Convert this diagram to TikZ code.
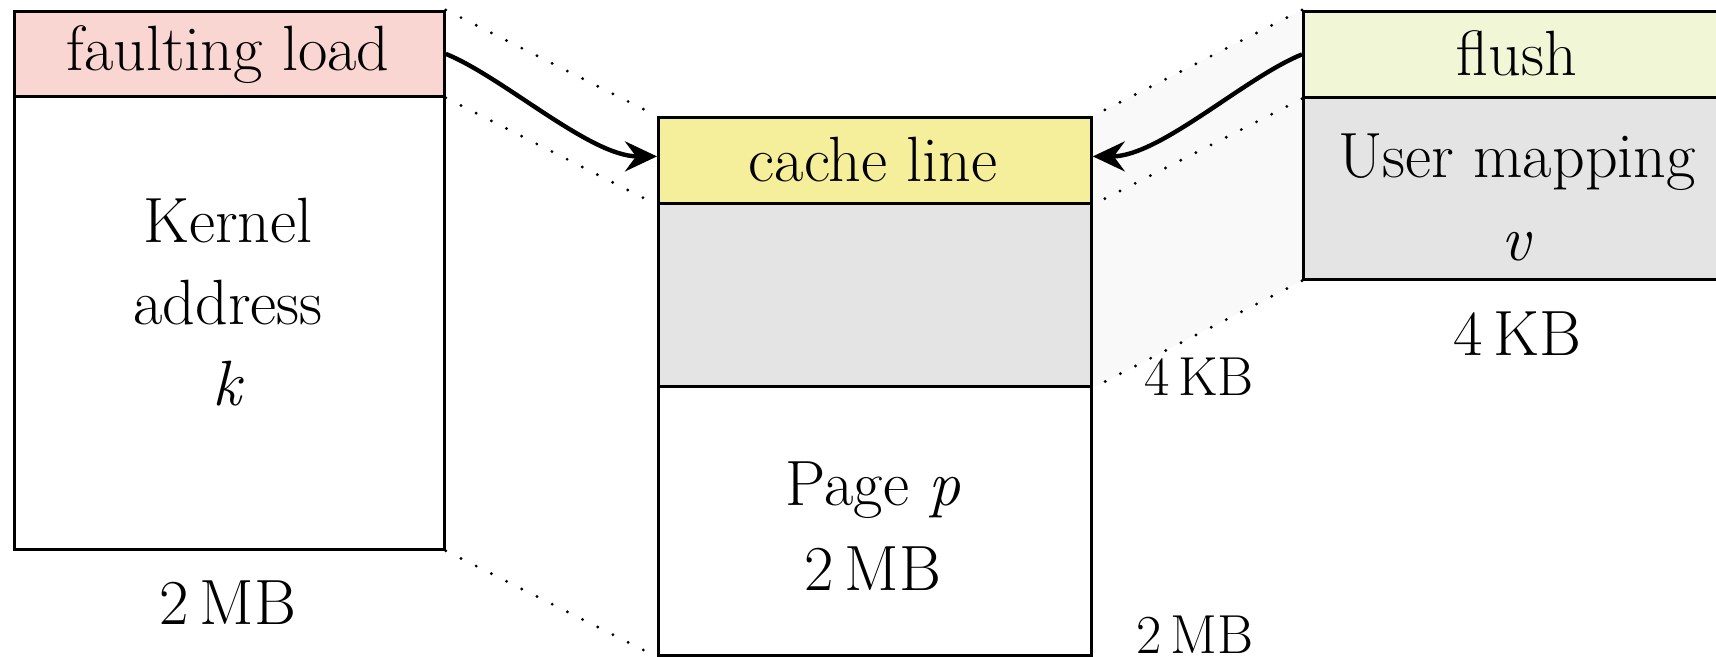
\documentclass[tikz,border=0pt]{standalone}
\usetikzlibrary{arrows.meta,backgrounds}
\definecolor{pinkh}{RGB}{250,214,210}
\definecolor{yellh}{RGB}{245,238,155}
\definecolor{greenh}{RGB}{240,246,214}
\definecolor{grayb}{RGB}{228,228,228}
\definecolor{faint}{RGB}{249,249,249}
\begin{document}
\begin{tikzpicture}[x=1pt,y=-1pt,
  box/.style={draw,line width=2.8pt,inner sep=0pt,anchor=north west},
  txt/.style={anchor=base,inner sep=0pt,font=\fontsize{64}{77}\selectfont},
  smalltxt/.style={anchor=base,inner sep=0pt,font=\fontsize{55}{66}\selectfont},
  guide/.style={line width=3.2pt,line cap=round,dash pattern=on 0pt off 17pt},
  arr/.style={line width=4.4pt,-{Stealth[length=32pt,width=30pt,inset=11pt]}}]
\useasboundingbox (0,0) rectangle (1716,656);
\clip (0,0) rectangle (1716,656);
% left block
\node[box,fill=pinkh,minimum width=430pt,minimum height=85pt] (lh) at (13,10) {};
\node[box,fill=white,minimum width=430pt,minimum height=453pt] (lb) at (13,95) {};
% center block
\node[box,fill=yellh,minimum width=433pt,minimum height=86pt] (cl) at (657,116) {};
\node[box,fill=grayb,minimum width=433pt,minimum height=183pt] (cg) at (657,202) {};
\node[box,fill=white,minimum width=433pt,minimum height=269pt] (cw) at (657,385) {};
% right block
\node[box,fill=greenh,minimum width=430pt,minimum height=86pt] (fh) at (1302,10) {};
\node[box,fill=grayb,minimum width=430pt,minimum height=182pt] (fg) at (1302,96) {};
% faint projection area
\begin{scope}[on background layer]
\fill[faint] (cl.north east) -- (fh.north west) -- (fg.south west) -- (cg.south east) -- cycle;
\end{scope}
% dotted guides
\draw[guide] (lh.north east) -- (cl.north west);
\draw[guide] (lh.south east) -- (cl.south west);
\draw[guide] (lb.south east) -- (cw.south west);
\draw[guide] (fh.north west) -- (cl.north east);
\draw[guide] (fh.south west) -- (cl.south east);
\draw[guide] (fg.south west) -- (cg.south east);
% texts
\node[txt] (t1) at (228,70) {faulting load};
\node[txt] (t2) at (228,242) {Kernel};
\node[txt] (t3) at (228,324) {address};
\node[txt] (t4) at (228,405) {\textit{k}};
\node[txt] (t5) at (228,624) {2\,MB};
\node[txt] (t6) at (873,181) {cache line};
\node[txt] (t7) at (873,505) {Page \textit{p}};
\node[txt] (t8) at (873,590) {2\,MB};
\node[smalltxt] (t9) at (1199,395) {4\,KB};
\node[smalltxt] (t10) at (1195,653) {2\,MB};
\node[txt] (t11) at (1517,75) {flush};
\node[txt] (t12) at (1517,177) {User mapping};
\node[txt] (t13) at (1517,260) {\textit{v}};
\node[txt] (t14) at (1517,355) {4\,KB};
% arrows
\draw[arr] (lh.east) .. controls +(57,23) and +(-67,0) .. ([yshift=4pt]cl.west);
\draw[arr] (fh.west) .. controls +(-57,23) and +(67,0) .. ([yshift=4pt]cl.east);
\end{tikzpicture}
\end{document}
